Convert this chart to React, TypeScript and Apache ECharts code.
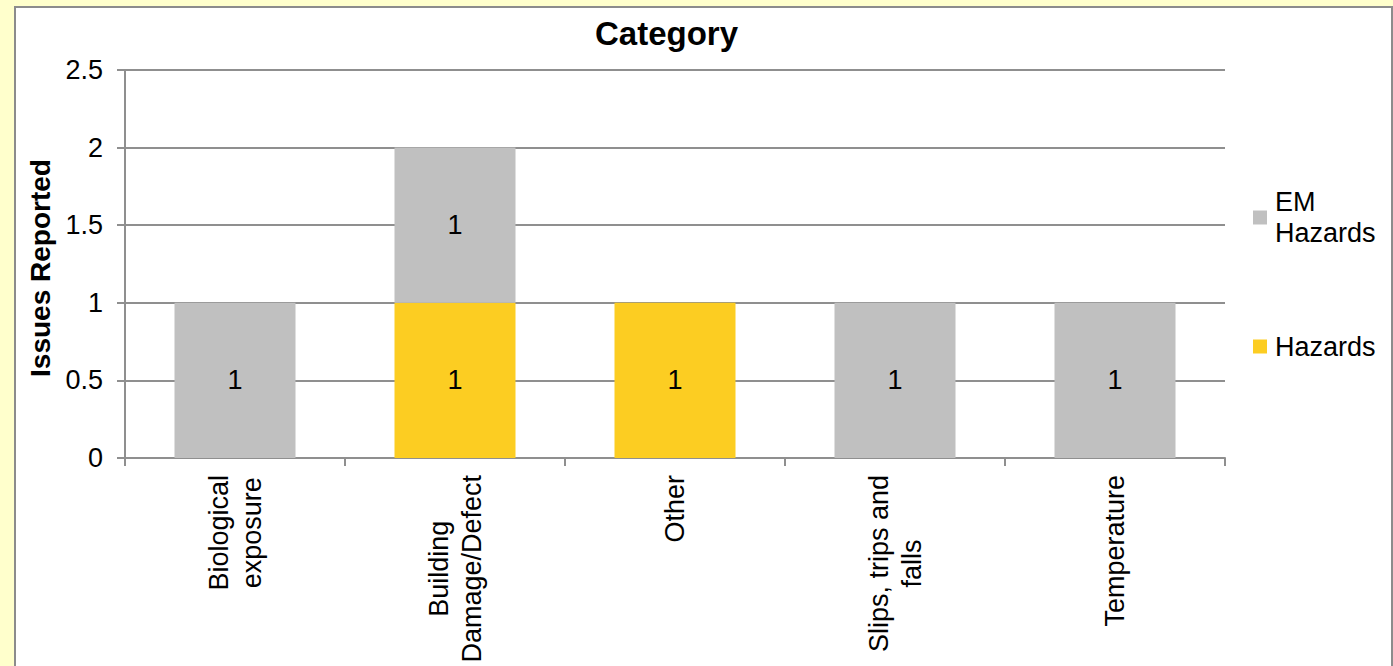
import React, { useEffect, useRef } from "react";
import * as echarts from "echarts";

// ---- data ----
const categories = [
  "Biological\nexposure",
  "Building\nDamage/Defect",
  "Other",
  "Slips, trips and\nfalls",
  "Temperature",
];
const hazards = [null, 1, 1, null, null];
const emHazards = [1, 1, null, 1, 1];
const seriesNames = ["Hazards", "EM Hazards"];
const legendOrder = ["EM Hazards", "Hazards"];
const yMin = 0;
const yMax = 2.5;
const yStep = 0.5;
const chartTitle = "Category";
const yAxisTitle = "Issues Reported";

const FONT = "'Liberation Sans', Arial, sans-serif";
const GRAY = "#C0C0C0";
const YELLOW = "#FCCD22";
const LINE = "#8f8f8f";
const FS = 27;

export default function App() {
  const ref = useRef<HTMLDivElement>(null);
  useEffect(() => {
    if (!ref.current) return;
    const chart = echarts.init(ref.current, null, { renderer: "svg" });
    const option: any = {
      animation: false,
      backgroundColor: "#FFFFCC",
      textStyle: { fontFamily: FONT },
      graphic: [
        {
          type: "rect",
          silent: true,
          z: -10,
          shape: { x: 15, y: 7, width: 1377, height: 700 },
          style: { fill: "#ffffff", stroke: "#8c8c8c", lineWidth: 2 },
        },
      ],
      title: {
        text: chartTitle,
        left: 595,
        top: 17,
        padding: 0,
        textAlign: "left",
        textStyle: { fontSize: 33, fontWeight: "bold", color: "#000", fontFamily: FONT },
      },
      legend: {
        orient: "vertical",
        left: 1253,
        top: 171,
        padding: 0,
        itemGap: 67,
        itemWidth: 14,
        itemHeight: 14,
        icon: "rect",
        selectedMode: false,
        textStyle: { fontSize: FS, lineHeight: 31, color: "#000", fontFamily: FONT },
        formatter: (name: string) => (name === "EM Hazards" ? "EM\nHazards" : name),
        data: [
          { name: legendOrder[0], textStyle: { padding: [31, 0, 0, 3] } },
          { name: legendOrder[1], textStyle: { padding: [0, 0, 0, 3] } },
        ],
      },
      grid: {
        left: 125,
        right: 168,
        top: 70,
        bottom: 208,
        containLabel: false,
        outerBoundsMode: "none",
      },
      xAxis: {
        type: "category",
        data: categories,
        axisLine: { show: true, lineStyle: { color: LINE, width: 2 } },
        axisTick: { show: true, length: 8, lineStyle: { color: LINE, width: 2 } },
        axisLabel: {
          rotate: 90,
          margin: 17,
          interval: 0,
          formatter: (v: string) =>
            v
              .split("\n")
              .map((l) => `{c|${l}}`)
              .join("\n"),
          rich: {
            c: {
              fontSize: FS,
              lineHeight: 33,
              align: "center",
              color: "#000",
              fontFamily: FONT,
            },
          },
        },
      },
      yAxis: {
        type: "value",
        min: yMin,
        max: yMax,
        interval: yStep,
        name: yAxisTitle,
        nameLocation: "middle",
        nameRotate: 90,
        nameGap: 67,
        nameTextStyle: {
          fontSize: 28,
          fontWeight: "bold",
          color: "#000",
          fontFamily: FONT,
          padding: [0, 8, 0, 0],
        },
        axisLine: { show: true, lineStyle: { color: LINE, width: 2 } },
        axisTick: { show: true, length: 8, lineStyle: { color: LINE, width: 2 } },
        axisLabel: { fontSize: FS, color: "#000", margin: 22, fontFamily: FONT },
        splitLine: { show: true, lineStyle: { color: LINE, width: 2 } },
      },
      series: [
        {
          name: seriesNames[0],
          type: "bar",
          stack: "total",
          barWidth: "55%",
          data: hazards,
          itemStyle: { color: YELLOW },
          label: {
            show: true,
            position: "inside",
            fontSize: FS,
            color: "#000",
            fontFamily: FONT,
          },
        },
        {
          name: seriesNames[1],
          type: "bar",
          stack: "total",
          barWidth: "55%",
          data: emHazards,
          itemStyle: { color: GRAY },
          label: {
            show: true,
            position: "inside",
            fontSize: FS,
            color: "#000",
            fontFamily: FONT,
          },
        },
      ],
    };
    chart.setOption(option);
    return () => chart.dispose();
  }, []);
  return (
    <div
      ref={ref}
      style={{ position: "fixed", left: 0, top: 0, width: 1393, height: 666 }}
    />
  );
}
